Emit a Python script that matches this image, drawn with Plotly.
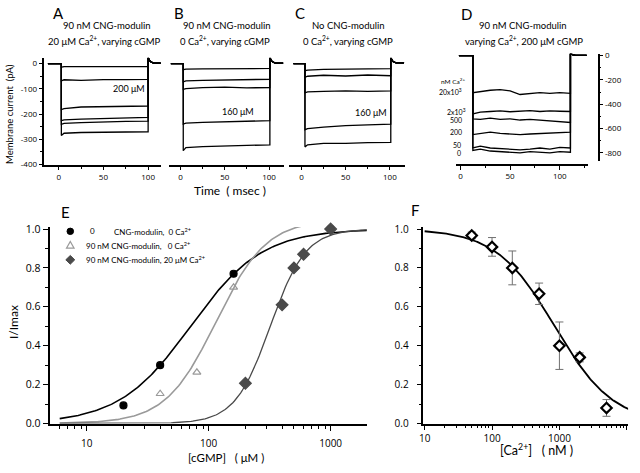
import numpy as np
import plotly.graph_objects as go

W, H = 640, 473
def px(x): return x / W
def py(y): return 1 - y / H

FONT = "Lato"
TFONT = "Open Sans"

# ---------------- Panel A: 90 nM CNG-modulin, 20 uM Ca2+, varying cGMP ----------------
A_on, A_off, A_t0, A_t1 = 3, 100, -12, 114
A_t = [6, 25, 50, 75, 100]
A_I = [
    [-12, -12, -12, -12, -12],
    [-64, -66, -63, -63, -62],
    [-178, -172, -171, -170, -168],
    [-223, -220, -218, -215, -213],
    [-237, -234, -231, -229, -228],
    [-276, -273, -272, -271, -270],
]
A_peak = [-14, -68, -182, -226, -241, -285]
A_spike, A_tail = 23, 2

# ---------------- Panel B: 90 nM CNG-modulin, 0 Ca2+ ----------------
B_on, B_off, B_t0, B_t1 = 3, 101, -11, 116
B_t = [6, 25, 50, 75, 101]
B_I = [
    [-22, -21, -20, -20, -19],
    [-68, -66, -64, -63, -62],
    [-99, -95, -93, -96, -95],
    [-236, -233, -230, -228, -226],
    [-333, -329, -326, -324, -322],
]
B_peak = [-24, -72, -102, -240, -345]
B_spike, B_tail = 23, 2

# ---------------- Panel C: no CNG-modulin, 0 Ca2+ ----------------
C_on, C_off, C_t0, C_t1 = 4, 101, -9, 116
C_t = [7, 25, 50, 75, 101]
C_I = [
    [-26, -23, -22, -21, -20],
    [-50, -46, -49, -45, -48],
    [-112, -110, -108, -110, -108],
    [-258, -252, -246, -243, -240],
    [-322, -316, -316, -313, -312],
]
C_peak = [-28, -54, -116, -262, -330]
C_spike, C_tail = 23, 3

# ---------------- Panel D: varying Ca2+, 200 uM cGMP ----------------
D_on, D_off, D_t0, D_t1 = 12.5, 110.7, -1.5, 127
D_t = [12.5, 20, 30, 40, 50, 60, 70, 80, 90, 100, 110.7]
D_labels = ["20x10<sup>3</sup>", "2x10<sup>3</sup>", "500", "200", "50", "0"]
D_I = [
    [-305, -295, -285, -280, -290, -320, -315, -305, -310, -305, -310],
    [-480, -465, -460, -455, -462, -458, -452, -460, -455, -458, -460],
    [-520, -525, -515, -525, -520, -530, -525, -530, -535, -540, -550],
    [-650, -640, -630, -640, -645, -650, -645, -640, -635, -630, -630],
    [-760, -745, -760, -765, -770, -775, -770, -760, -770, -755, -760],
    [-780, -770, -785, -790, -795, -800, -790, -795, -800, -790, -795],
]
D_spike, D_tail = 20, 2

# ---------------- Panel E: dose-response to cGMP ----------------
E_names = ["CNG-modulin,\u00a0 0 Ca<sup>2+</sup>",
           "90 nM CNG-modulin,\u00a0\u00a0 0 Ca<sup>2+</sup>",
           "90 nM CNG-modulin, 20 \u03bcM Ca<sup>2+</sup>"]
E_x = [[20, 40, 160, 1000], [40, 80, 160, 1000], [200, 400, 500, 600, 1000]]
E_y = [[0.093, 0.30, 0.77, 1.0], [0.153, 0.263, 0.70, 1.0], [0.207, 0.61, 0.80, 0.87, 1.0]]
E_fitK = [71, 115, 320]      # Hill fit K1/2 (uM)
E_fitN = [1.48, 2.1, 3.0]    # Hill coefficients
E_fitA = [1.0, 1.05, 1.0]    # amplitudes
E_colors = ["#000000", "#9a9a9a", "#4a4a4a"]
E_symbols = ["circle", "triangle-up-open", "diamond"]

# ---------------- Panel F: Ca2+ dependence ----------------
F_x = [50, 100, 200, 500, 1000, 2000, 5000]
F_y = [0.967, 0.908, 0.80, 0.667, 0.40, 0.34, 0.08]
F_err = [0.017, 0.048, 0.087, 0.055, 0.122, 0.023, 0.043]
F_fitK, F_fitN = 850, 1.0

fig = go.Figure()
LW = 1.3

def add_steps(xa, ya, t, I, peaks, on, off, t0, t1, spike, tail):
    for vals, pk in zip(I, peaks):
        xs = [t0, on, on] + list(t) + [off, off + 2.5, off + 6, t1]
        ys = [0, 0, pk] + list(vals) + [spike, spike * 0.35, tail, tail]
        fig.add_trace(go.Scatter(x=xs, y=ys, xaxis=xa, yaxis=ya, mode="lines",
                                 line=dict(color="black", width=LW), showlegend=False,
                                 hoverinfo="skip"))

add_steps("x", "y", A_t, A_I, A_peak, A_on, A_off, A_t0, A_t1, A_spike, A_tail)
add_steps("x2", "y", B_t, B_I, B_peak, B_on, B_off, B_t0, B_t1, B_spike, B_tail)
add_steps("x3", "y", C_t, C_I, C_peak, C_on, C_off, C_t0, C_t1, C_spike, C_tail)
for vals in D_I:
    xs = [D_t0, D_on] + D_t + [D_off, D_off + 2, D_off + 5, D_t1]
    ys = [0, 0] + vals + [D_spike, D_spike * 0.4, D_tail, D_tail]
    fig.add_trace(go.Scatter(x=xs, y=ys, xaxis="x4", yaxis="y4", mode="lines",
                             line=dict(color="black", width=LW), showlegend=False,
                             hoverinfo="skip"))

# E: fitted curves and data
cx = np.logspace(np.log10(6), np.log10(2000), 200)
for K, n, A, c, w in zip(E_fitK, E_fitN, E_fitA, E_colors, [1.6, 1.6, 1.3]):
    fig.add_trace(go.Scatter(x=cx, y=A / (1 + (K / cx) ** n), xaxis="x5", yaxis="y5",
                             mode="lines", line=dict(color=c, width=w), showlegend=False,
                             hoverinfo="skip"))
for name, xs, ys, c, s, sz in zip(E_names, E_x, E_y, E_colors, E_symbols, [7, 7, 9]):
    fig.add_trace(go.Scatter(x=xs, y=ys, xaxis="x5", yaxis="y5", mode="markers", name=name,
                             showlegend=False, cliponaxis=False,
                             marker=dict(color=c, symbol=s, size=sz,
                                         line=dict(color=c, width=1.2))))

# F
fx_ = np.logspace(1, 4.05, 200)
fig.add_trace(go.Scatter(x=fx_, y=1 / (1 + (fx_ / F_fitK) ** F_fitN), xaxis="x6", yaxis="y6",
                         mode="lines", line=dict(color="black", width=1.8), showlegend=False,
                         hoverinfo="skip"))
fig.add_trace(go.Scatter(x=F_x, y=F_y, xaxis="x6", yaxis="y6", mode="markers", showlegend=False,
                         error_y=dict(type="data", array=F_err, color="#707070", thickness=1, width=4),
                         marker=dict(symbol="diamond", size=8, color="white",
                                     line=dict(color="black", width=2.2))))

axbase = dict(showline=True, linecolor="black", linewidth=1.5, showgrid=False, zeroline=False,
              ticks="outside", tickcolor="black", tickwidth=1.2, fixedrange=True)
small_tick = dict(family=TFONT, size=8, color="black")
tv_t = [0, 50, 100]

def tx(dom, rng, **kw):
    d = dict(axbase); d.update(domain=[px(dom[0]), px(dom[1])], range=rng, tickvals=tv_t,
                               ticktext=[str(v) for v in tv_t], ticklen=4, tickfont=small_tick,
                               minor=dict(ticks="outside", ticklen=2.5, dtick=25, tick0=0,
                                          tickcolor="black", showgrid=False))
    d.update(kw); return d

yvals_A = [0, -100, -200, -300, -400]
yvals_D = [0, -200, -400, -600, -800]
yvals_E = [0, 0.2, 0.4, 0.6, 0.8, 1.0]

ydomE = [py(429.3), py(227.3)]
fig.update_layout(
    width=W, height=H, margin=dict(l=0, r=0, t=0, b=0),
    paper_bgcolor="white", plot_bgcolor="white",
    font=dict(family=FONT, color="black"),
    showlegend=False,
    xaxis=tx([40.7, 158], [-15.9, 114.4], anchor="y"),
    xaxis2=tx([165.7, 281.7], [-13.5, 116.9], anchor="y"),
    xaxis3=tx([287, 404], [-13.8, 117.6], anchor="y"),
    xaxis4=tx([455, 588], [-4.3, 128.7], anchor="free", position=py(163.3)),
    yaxis=dict(axbase, domain=[py(163), py(53.3)], range=[-400, 23], anchor="x",
               tickvals=yvals_A, ticktext=[str(v) for v in yvals_A], ticklen=4, tickfont=small_tick,
               minor=dict(ticks="outside", ticklen=2.5, dtick=50, tick0=0, tickcolor="black")),
    yaxis4=dict(axbase, domain=[py(159), py(49)], range=[-864, 16], anchor="free",
                position=px(598.3), side="right",
                tickvals=yvals_D, ticktext=[str(v) for v in yvals_D], ticklen=4, tickfont=small_tick,
                minor=dict(ticks="outside", ticklen=2, dtick=100, tick0=0, tickcolor="black")),
    xaxis5=dict(axbase, type="log", domain=[px(46.7), px(365)], range=[0.702, 3.296], anchor="y5",
                tickvals=[10, 100, 1000], ticktext=["10", "100", "1000"], ticklen=6,
                ticklabelstandoff=4,
                tickfont=dict(family=TFONT, size=10, color="black"),
                minor=dict(ticks="outside", ticklen=3.5, dtick="D1", tickcolor="black", showgrid=False)),
    yaxis5=dict(axbase, domain=ydomE, range=[0, 1.01], anchor="x5",
                tickvals=yvals_E, ticktext=["%.1f" % v for v in yvals_E], ticklen=6,
                tickfont=dict(family=TFONT, size=10.5, color="black"),
                minor=dict(ticks="outside", ticklen=3.5, dtick=0.1, tick0=0, tickcolor="black")),
    xaxis6=dict(axbase, type="log", domain=[px(422), px(628)], range=[0.981, 4.019], anchor="y6",
                tickvals=[10, 100, 1000, 10000], ticktext=["10", "100", "1000", "10000"], ticklen=4.5,
                tickfont=dict(family=TFONT, size=10, color="black"),
                minor=dict(ticks="outside", ticklen=3, dtick="D1", tickcolor="black", showgrid=False)),
    yaxis6=dict(axbase, domain=ydomE, range=[0, 1.01], anchor="x6",
                tickvals=yvals_E, ticktext=["%.1f" % v for v in yvals_E], ticklen=5,
                ticklabelstandoff=6,
                tickfont=dict(family=TFONT, size=10, color="black"),
                minor=dict(ticks="outside", ticklen=3, dtick=0.1, tick0=0, tickcolor="black")),
)

def note(x, y, text, size=10, angle=0, anchor="center", family=FONT, yanchor="middle"):
    fig.add_annotation(x=px(x), y=py(y), xref="paper", yref="paper", text=text, showarrow=False,
                       xanchor=anchor, yanchor=yanchor, textangle=angle,
                       font=dict(family=family, size=size, color="black"))

# panel letters
for L, x, y in [("A", 55, 7), ("B", 176, 7), ("C", 298, 7), ("D", 465, 8), ("E", 61.5, 211.5), ("F", 413.5, 210)]:
    note(x, y, L, size=15)

note(104, 20, "90 nM CNG-modulin", 9.5)
note(101, 35, "20 \u03bcM Ca<sup>2+</sup>, varying cGMP", 9.5)
note(224.7, 20, "90 nM CNG-modulin", 9.5)
note(222, 35, "0 Ca<sup>2+</sup>, varying cGMP", 9.5)
note(347, 20, "No CNG-modulin", 9.5)
note(346.5, 35, "0 Ca<sup>2+</sup>, varying cGMP", 9.5)
note(522, 20, "90 nM CNG-modulin", 9.5)
note(523, 35, "varying Ca<sup>2+</sup>, 200 \u03bcM cGMP", 9.5)

note(126, 84.5, "200 \u03bcM", 9)
note(235, 108, "160 \u03bcM", 9)
note(369, 109.5, "160 \u03bcM", 9)

note(227, 190, "Time\u00a0\u00a0( msec )", 12)
note(6, 111, "Membrane current\u00a0 (pA)", 9.5, angle=-90)

# D Ca labels
note(452, 77, "nM Ca<sup>2+</sup>", 6.5)
for lab, (x, y) in zip(D_labels, [(449, 88), (455, 108), (455, 117), (455, 130), (456, 142.5), (458, 151)]):
    note(x, y, lab, 7)

# E legend (keys drawn as small shapes, labels as text)
leg_y = [231.7, 246, 261]
kx = 66.7
r = 3.3
fig.add_shape(type="circle", xref="paper", yref="paper", x0=px(kx - r), x1=px(kx + r),
              y0=py(leg_y[0] + r), y1=py(leg_y[0] - r), fillcolor=E_colors[0], line=dict(color=E_colors[0], width=1))
t = 3.8
fig.add_shape(type="path", xref="paper", yref="paper",
              path=f"M {px(kx - t)} {py(leg_y[1] + t * 0.8)} L {px(kx + t)} {py(leg_y[1] + t * 0.8)} L {px(kx)} {py(leg_y[1] - t)} Z",
              line=dict(color=E_colors[1], width=1.2), fillcolor="rgba(0,0,0,0)")
d = 4.5
fig.add_shape(type="path", xref="paper", yref="paper",
              path=f"M {px(kx - d)} {py(leg_y[2])} L {px(kx)} {py(leg_y[2] - d)} L {px(kx + d)} {py(leg_y[2])} L {px(kx)} {py(leg_y[2] + d)} Z",
              line=dict(color=E_colors[2], width=1), fillcolor=E_colors[2])
note(85, leg_y[0], "0", 8, anchor="left")
note(108.3, leg_y[0], E_names[0], 8, anchor="left")
note(80, leg_y[1], E_names[1], 8, anchor="left")
note(80, leg_y[2], E_names[2], 8, anchor="left")

note(9, 325, "I/Imax", 12, angle=-90)
note(223, 473, "[cGMP]\u00a0\u00a0\u00a0( \u03bcM )", 11.5, yanchor="bottom")
note(535.5, 456.5, "[Ca<sup>2+</sup>]\u00a0\u00a0\u00a0( nM )", 12.5)

fig.write_html("out.html", config={"displayModeBar": False},
               post_script="document.body.style.margin='0';document.body.style.padding='0';"
                           "document.body.style.overflow='hidden';")
